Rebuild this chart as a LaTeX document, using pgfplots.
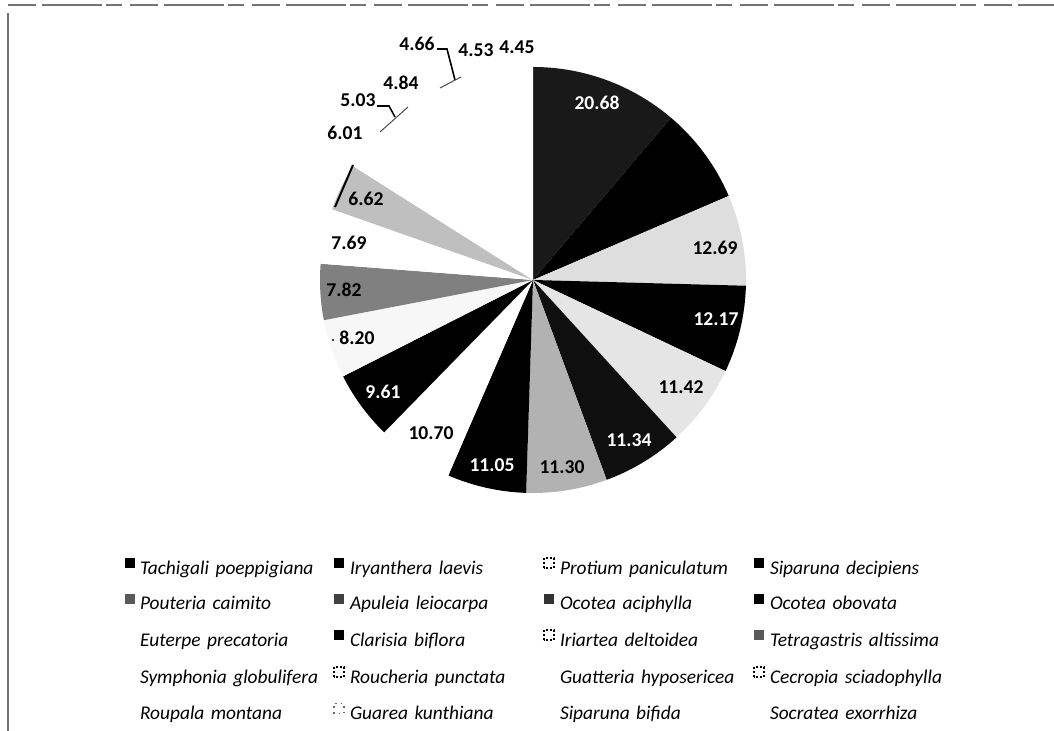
\documentclass[border=0pt]{standalone}
\usepackage{fontspec}
\setmainfont{Carlito}
\usepackage{pgfplots}
\usepackage{pgfplotstable}
\pgfplotsset{compat=1.18}

% slice values (clockwise from 12 o'clock) and grey fills of the scan
\pgfplotstableread{
value fc
20.68 black!90
13.50 black
12.69 black!13
12.17 black
11.42 black!10
11.34 black!94
11.30 black!30
11.05 black
10.70 white
9.61  black
8.20  black!3
7.82  black!50
7.69  white
6.62  black!25
6.01  white
5.03  white
4.84  white
4.66  white
4.53  white
4.45  white
}\pietable

\begin{document}
\begin{tikzpicture}
\begin{axis}[
  name=ax,
  width=527bp, height=365.5bp, scale only axis,
  xmin=0, xmax=1054, ymin=0, ymax=731,
  hide axis, clip=false,
  legend image code/.code={\path[#1] (0bp,0.6bp) rectangle (5bp,5.6bp);},
  legend columns=4,
  legend style={draw=none, fill=none, at={(axis cs:125,174)}, anchor=north west,
    inner sep=0pt, outer sep=0pt, column sep=2.5bp, row sep=7.75bp,
    nodes={inner sep=0pt, text width=94bp, align=left, text height=7bp, text depth=2bp,
      font=\fontsize{9.7bp}{11bp}\selectfont\itshape}},
]
% total
\def\tot{0}
\pgfplotsforeachungrouped \i in {0,...,19}{%
  \pgfplotstablegetelem{\i}{value}\of\pietable
  \pgfmathsetmacro\tot{\tot+\pgfplotsretval}}
% slices
\def\cum{0}
\pgfplotsforeachungrouped \i in {0,...,19}{%
  \pgfplotstablegetelem{\i}{value}\of\pietable \let\v=\pgfplotsretval
  \pgfplotstablegetelem{\i}{fc}\of\pietable \let\fc=\pgfplotsretval
  \pgfmathsetmacro\sa{90-\cum/\tot*360}%
  \pgfmathsetmacro\cum{\cum+\v}%
  \pgfmathsetmacro\ea{90-\cum/\tot*360}%
  \edef\temp{\noexpand\fill[\fc] (axis cs:533,451) -- ++(\sa:106.5bp)
     arc[start angle=\sa, end angle=\ea, radius=106.5bp] -- cycle;}%
  \temp
}

% leader lines
\draw[black, line width=0.8bp] (axis cs:377,625) -- (axis cs:389,625) -- (axis cs:395,614);
\draw[black!70, line width=0.5bp] (axis cs:380,599) -- (axis cs:408,624);
\draw[black, line width=0.8bp] (axis cs:437,682) -- (axis cs:447,682) -- (axis cs:455,651);
\draw[black!70, line width=0.5bp] (axis cs:440,643) -- (axis cs:461,654);
\draw[black, line width=1bp] (axis cs:353,566) -- (axis cs:335,524);
\fill[black] (axis cs:333,391) circle[radius=0.6bp];

% data labels
\begin{scope}[every node/.style={font=\fontsize{9.8bp}{12bp}\selectfont\bfseries, inner sep=0pt}]
\node[white] at (axis cs:597,628) {20.68};
\node at (axis cs:715,483) {12.69};
\node[white] at (axis cs:716,412) {12.17};
\node at (axis cs:681,344) {11.42};
\node[white] at (axis cs:629,291) {11.34};
\node at (axis cs:562,264) {11.30};
\node[white] at (axis cs:492,266) {11.05};
\node at (axis cs:431,298) {10.70};
\node[white] at (axis cs:383,339) {9.61};
\node at (axis cs:357,393) {8.20};
\node at (axis cs:344,441) {7.82};
\node at (axis cs:349,488) {7.69};
\node at (axis cs:366,532) {6.62};
\node at (axis cs:345,598) {6.01};
\node at (axis cs:358,631) {5.03};
\node at (axis cs:401,648) {4.84};
\node at (axis cs:417,687) {4.66};
\node at (axis cs:476,681) {4.53};
\node at (axis cs:517,684) {4.45};
\end{scope}

% frame of the scan
\draw[black!55, line width=0.8bp, dash pattern=on 14bp off 3bp on 30bp off 2bp on 8bp off 4bp] (axis cs:8,726) -- (axis cs:1054,726);
\draw[black!55, line width=0.8bp] (axis cs:8,718) -- (axis cs:8,0);

% legend
\addlegendimage{fill=black, draw=none}\addlegendentry{\mbox{Tachigali poeppigiana}}
\addlegendimage{fill=black, draw=none}\addlegendentry{\mbox{Iryanthera laevis}}
\addlegendimage{fill=white, draw=black, densely dotted, line width=1bp}\addlegendentry{\mbox{Protium paniculatum}}
\addlegendimage{fill=black, draw=none}\addlegendentry{\mbox{Siparuna decipiens}}
\addlegendimage{fill=black!65, draw=none}\addlegendentry{\mbox{Pouteria caimito}}
\addlegendimage{fill=black!75, draw=none}\addlegendentry{\mbox{Apuleia leiocarpa}}
\addlegendimage{fill=black!80, draw=none}\addlegendentry{\mbox{Ocotea aciphylla}}
\addlegendimage{fill=black, draw=none}\addlegendentry{\mbox{Ocotea obovata}}
\addlegendimage{fill=white, draw=none}\addlegendentry{\mbox{Euterpe precatoria}}
\addlegendimage{fill=black, draw=none}\addlegendentry{\mbox{Clarisia biflora}}
\addlegendimage{fill=white, draw=black, densely dotted, line width=1bp}\addlegendentry{\mbox{Iriartea deltoidea}}
\addlegendimage{fill=black!65, draw=none}\addlegendentry{\mbox{Tetragastris altissima}}
\addlegendimage{fill=white, draw=none}\addlegendentry{\mbox{Symphonia globulifera}}
\addlegendimage{fill=white, draw=black, densely dotted, line width=1bp}\addlegendentry{\mbox{Roucheria punctata}}
\addlegendimage{fill=white, draw=none}\addlegendentry{\mbox{Guatteria hyposericea}}
\addlegendimage{fill=white, draw=black, densely dotted, line width=1bp}\addlegendentry{\mbox{Cecropia sciadophylla}}
\addlegendimage{fill=white, draw=none}\addlegendentry{\mbox{Roupala montana}}
\addlegendimage{fill=white, draw=black!60, dotted, line width=0.8bp}\addlegendentry{\mbox{Guarea kunthiana}}
\addlegendimage{fill=white, draw=none}\addlegendentry{\mbox{Siparuna bifida}}
\addlegendimage{fill=white, draw=none}\addlegendentry{\mbox{Socratea exorrhiza}}
\end{axis}
\pgfresetboundingbox
\path (ax.south west) rectangle (ax.north east);
\end{tikzpicture}
\end{document}
